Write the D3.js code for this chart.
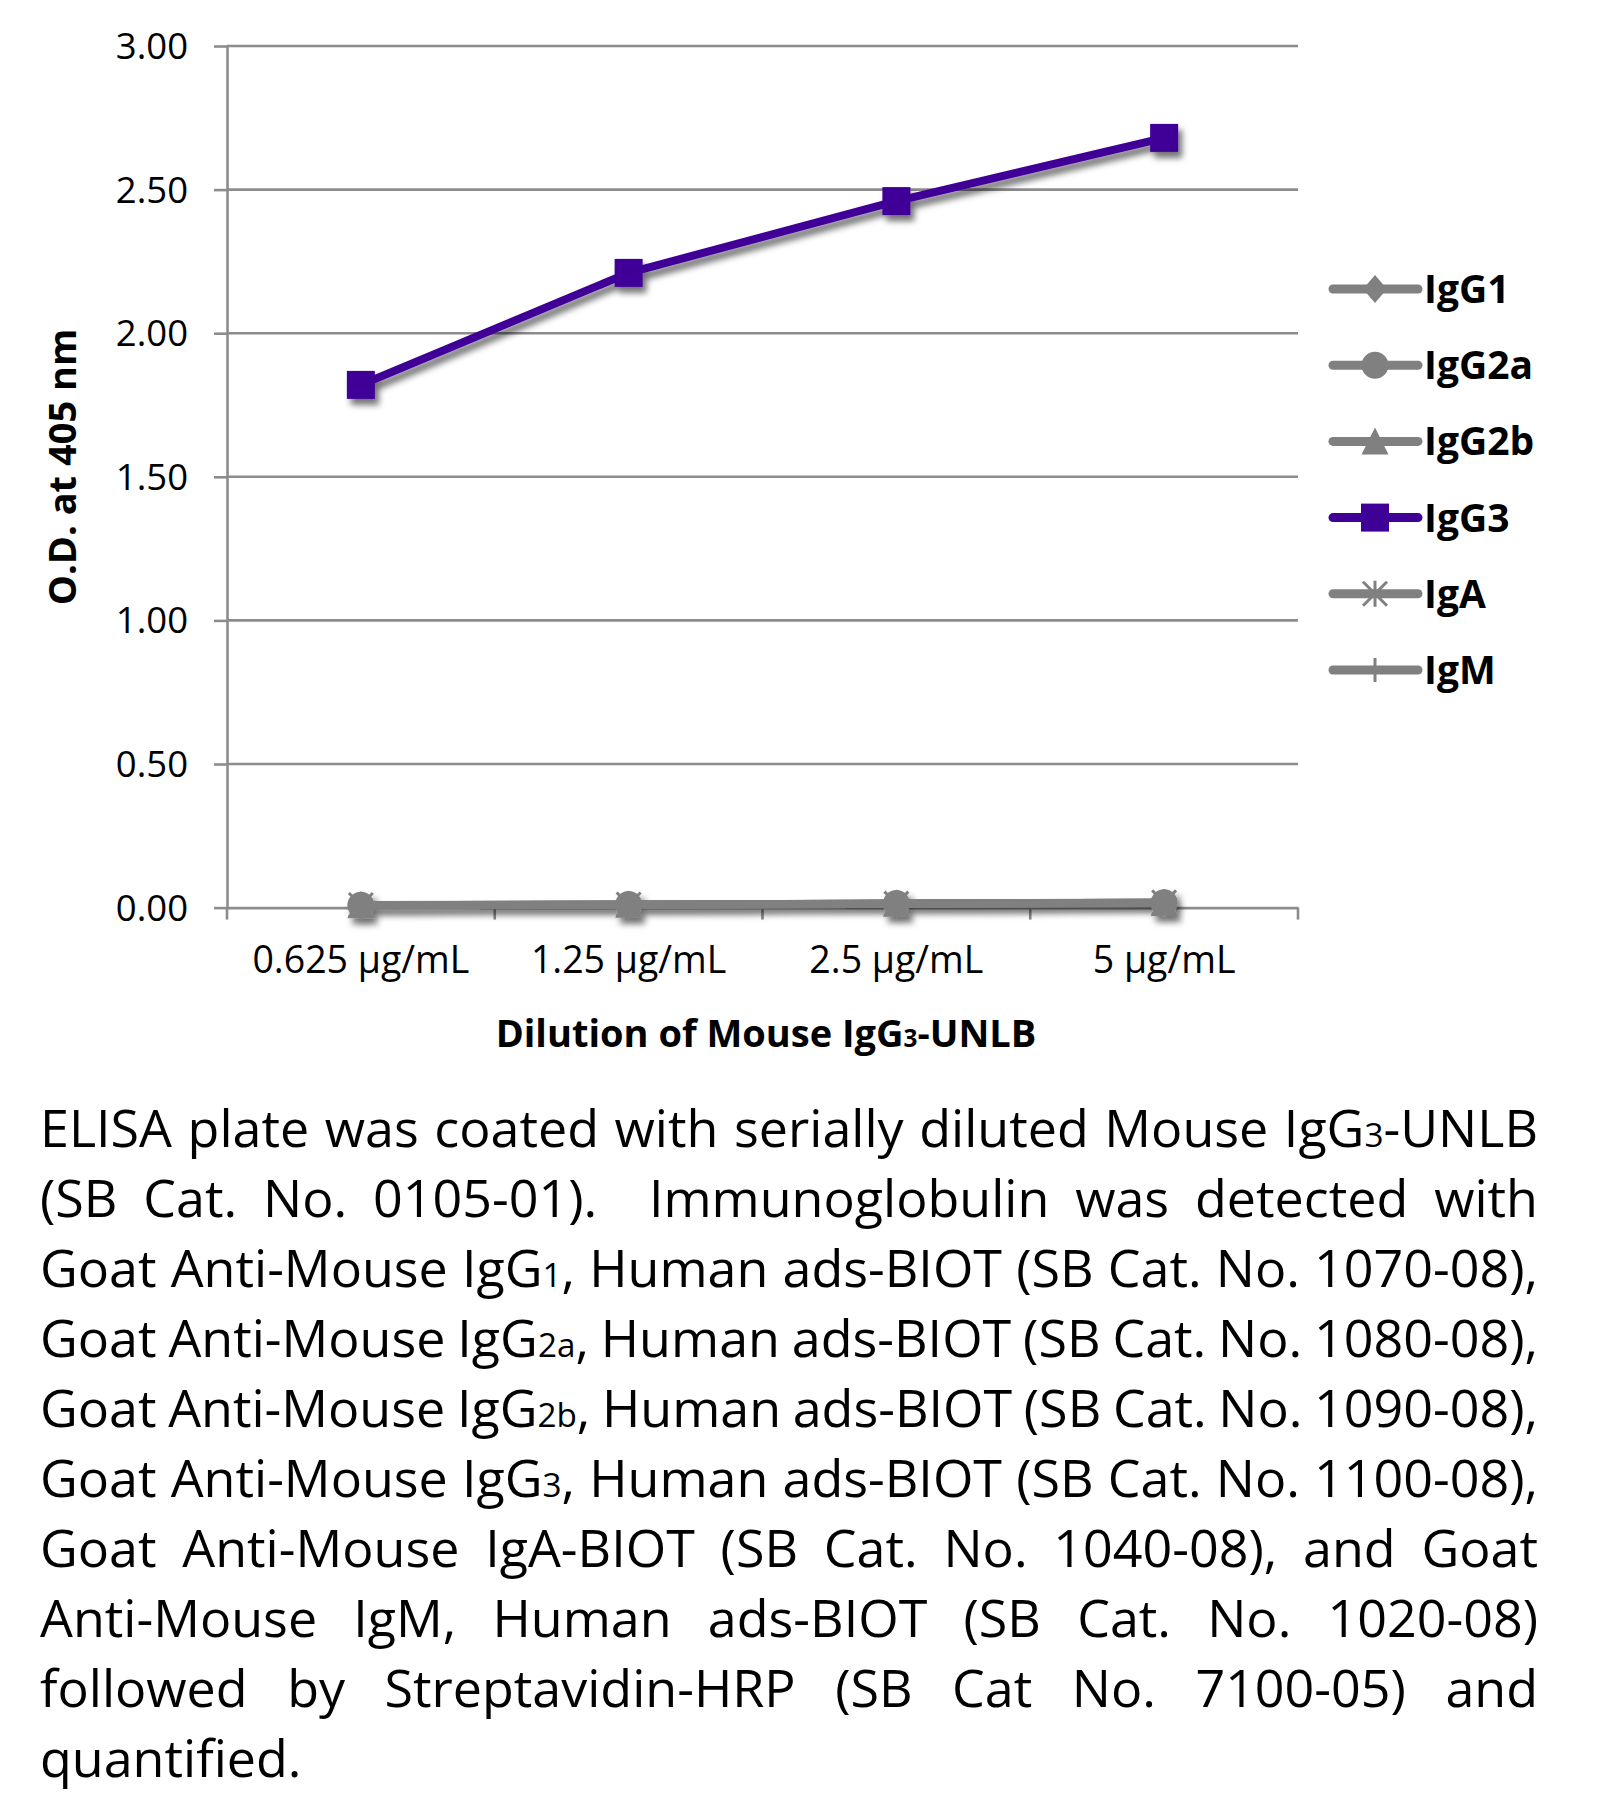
<!DOCTYPE html>
<html>
<head>
<meta charset="utf-8">
<script src="https://cdn.jsdelivr.net/npm/d3@7"></script>
<style>
  html, body { margin: 0; padding: 0; background: #ffffff; }
  svg { display: block; }
  text { font-family: "Open Sans", "Noto Sans", sans-serif; fill: #000; }
</style>
</head>
<body>
<svg id="chart" width="1608" height="1793"></svg>
<script>
// ---------------- DATA ----------------
const categories = ["0.625 µg/mL", "1.25 µg/mL", "2.5 µg/mL", "5 µg/mL"];
const yTicks = [0, 0.5, 1.0, 1.5, 2.0, 2.5, 3.0];
const seriesNames = ["IgG1", "IgG2a", "IgG2b", "IgG3", "IgA", "IgM"];
const igG1 = [0.008, 0.011, 0.014, 0.017];
const igG2a = [0.008, 0.011, 0.014, 0.017];
const igG2b = [0.008, 0.010, 0.013, 0.016];
const igG3 = [1.82, 2.21, 2.46, 2.68];
const igA = [0.009, 0.011, 0.014, 0.018];
const igM = [0.008, 0.010, 0.014, 0.017];
const seriesValues = [igG1, igG2a, igG2b, igG3, igA, igM];
const seriesMarkers = ["diamond", "circle", "triangle", "square", "asterisk", "plus"];
const seriesColors = ["#808080", "#808080", "#808080", "#3f0098", "#808080", "#808080"];
const yTitle = "O.D. at 405 nm";
const xTitle = "Dilution of Mouse IgG{3}-UNLB";
const captionLines = [
  "ELISA plate was coated with serially diluted Mouse IgG{3}-UNLB",
  "(SB Cat. No. 0105-01).  Immunoglobulin was detected with",
  "Goat Anti-Mouse IgG{1}, Human ads-BIOT (SB Cat. No. 1070-08),",
  "Goat Anti-Mouse IgG{2a}, Human ads-BIOT (SB Cat. No. 1080-08),",
  "Goat Anti-Mouse IgG{2b}, Human ads-BIOT (SB Cat. No. 1090-08),",
  "Goat Anti-Mouse IgG{3}, Human ads-BIOT (SB Cat. No. 1100-08),",
  "Goat Anti-Mouse IgA-BIOT (SB Cat. No. 1040-08), and Goat",
  "Anti-Mouse IgM, Human ads-BIOT (SB Cat. No. 1020-08)",
  "followed by Streptavidin-HRP (SB Cat No. 7100-05) and",
  "quantified."
];

// ---------------- LAYOUT ----------------
const plotL = 227, plotR = 1298, plotT = 46, plotB = 907.6;
const svg = d3.select("#chart");

const defs = svg.append("defs");
const f = defs.append("filter").attr("id", "shadow")
  .attr("x", "-20%").attr("y", "-20%").attr("width", "140%").attr("height", "160%");
f.append("feDropShadow").attr("dx", 4).attr("dy", 6).attr("stdDeviation", 3.2)
  .attr("flood-color", "#000").attr("flood-opacity", 0.55);

const x = d3.scaleBand().domain(categories).range([plotL, plotR]).padding(0);
const y = d3.scaleLinear().domain([0, 3]).range([plotB, plotT]);
const gridColor = "#8c8c8c";

// gridlines
svg.append("g").selectAll("line").data(yTicks.filter(d => d > 0)).join("line")
  .attr("x1", plotL).attr("x2", plotR)
  .attr("y1", d => y(d)).attr("y2", d => y(d))
  .attr("stroke", gridColor).attr("stroke-width", 2.6);

// y axis
const yAxis = svg.append("g").attr("transform", `translate(${plotL},0)`)
  .call(d3.axisLeft(y).tickValues(yTicks).tickFormat(d3.format(".2f")).tickSizeInner(13).tickSizeOuter(0).tickPadding(26));
yAxis.select(".domain").attr("stroke", gridColor).attr("stroke-width", 2.6);
yAxis.selectAll(".tick line").attr("stroke", gridColor).attr("stroke-width", 2.6);
yAxis.selectAll(".tick text").style("font-family", '"Open Sans", sans-serif')
  .style("font-size", "36.5px").attr("fill", "#000").attr("dy", "0.34em");

// x axis
const xAxis = svg.append("g").attr("transform", `translate(0,${plotB})`)
  .call(d3.axisBottom(x).tickSize(0).tickPadding(65));
xAxis.select(".domain").attr("stroke", gridColor).attr("stroke-width", 2.6);
xAxis.selectAll(".tick text").style("font-family", '"Open Sans", sans-serif')
  .style("font-size", "37.5px").attr("fill", "#000").attr("dy", "0");
const boundaries = categories.map(c => x(c)).concat([x.range()[1]]);
svg.append("g").selectAll("line").data(boundaries).join("line")
  .attr("x1", d => d).attr("x2", d => d).attr("y1", plotB).attr("y2", plotB + 12)
  .attr("stroke", gridColor).attr("stroke-width", 2.6);

// ---------------- MARKERS ----------------
function markerPath(type) {
  switch (type) {
    case "diamond": return "M0,-14L12,0L0,14L-12,0Z";
    case "circle": return d3.symbol(d3.symbolCircle, 572)();
    case "triangle": return "M0,-14L13.5,13L-13.5,13Z";
    case "square": return "M-14,-14H14V14H-14Z";
    case "asterisk": return "M-12,-12L12,12M-12,12L12,-12M0,-13V13";
    case "plus": return "M0,-12V12M-12,0H12";
  }
}
function drawMarker(g, type, color) {
  const stroked = (type === "asterisk" || type === "plus");
  g.append("path").attr("d", markerPath(type))
    .attr("fill", stroked ? "none" : color)
    .attr("stroke", stroked ? color : "none")
    .attr("stroke-width", stroked ? 3 : 0);
}

// series
const seriesG = svg.append("g").attr("filter", "url(#shadow)");
const cx = c => x(c) + x.bandwidth() / 2;
const line = d3.line().x((d, i) => cx(categories[i])).y(d => y(d));
const order = [0, 1, 2, 4, 5, 3];
order.forEach(si => {
  const g = seriesG.append("g");
  g.append("path").attr("d", line(seriesValues[si]))
    .attr("fill", "none").attr("stroke", seriesColors[si])
    .attr("stroke-width", 8).attr("stroke-linejoin", "round").attr("stroke-linecap", "round");
  seriesValues[si].forEach((v, i) => {
    const mg = g.append("g").attr("transform", `translate(${cx(categories[i])},${y(v)})`);
    drawMarker(mg, seriesMarkers[si], seriesColors[si]);
  });
});

// ---------------- LEGEND ----------------
const legY = d3.scalePoint().domain(seriesNames).range([289, 670]);
const legend = svg.append("g");
seriesNames.forEach((name, si) => {
  const g = legend.append("g").attr("transform", `translate(0,${legY(name)})`);
  g.append("line").attr("x1", 1333).attr("x2", 1418).attr("y1", 0).attr("y2", 0)
    .attr("stroke", seriesColors[si]).attr("stroke-width", 9).attr("stroke-linecap", "round");
  const mg = g.append("g").attr("transform", "translate(1375,0)");
  drawMarker(mg, seriesMarkers[si], seriesColors[si]);
  g.append("text").attr("x", 1424).attr("y", 14)
    .style("font-size", "39px").style("font-weight", "700").text(name);
});

// ---------------- TITLES ----------------
function appendRich(textSel, str) {
  const parts = str.split(/(\{[^}]*\})/).filter(s => s.length);
  parts.forEach(p => {
    if (p.startsWith("{")) {
      textSel.append("tspan").style("font-size", "0.64em").text(p.slice(1, -1));
    } else {
      textSel.append("tspan").text(p);
    }
  });
  return textSel;
}
svg.append("text").attr("transform", "translate(76,467) rotate(-90)")
  .attr("text-anchor", "middle").style("font-size", "38px").style("font-weight", "700").text(yTitle);
appendRich(svg.append("text").attr("x", 766).attr("y", 1047).attr("text-anchor", "middle")
  .style("font-size", "38px").style("font-weight", "700"), xTitle);

// ---------------- CAPTION (justified) ----------------
const capL = 40, capR = 1538, capW = capR - capL, capY0 = 1147, capDY = 70;
const capG = svg.append("g");
const probeFS = 40;
const probe = appendRich(capG.append("text").style("font-size", probeFS + "px"), captionLines[0].replace(/ /g, "\u00a0"));
const probeW = probe.node().getComputedTextLength();
probe.remove();
const capFS = Math.min(52, probeFS * capW / probeW);
capG.style("font-size", capFS + "px");
captionLines.forEach((ln, li) => {
  // words and gap weights (a double space counts as two gaps)
  const tokens = ln.split(/( +)/);
  const words = [], gapW = [];
  tokens.forEach((tk, k) => {
    if (k % 2 === 0) words.push(tk); else gapW.push(tk.length);
  });
  const texts = words.map(w => appendRich(capG.append("text").attr("y", capY0 + li * capDY), w));
  const widths = texts.map(t => t.node().getComputedTextLength());
  const sum = d3.sum(widths);
  const totalGapW = Math.max(1, d3.sum(gapW));
  const last = li === captionLines.length - 1;
  const minGap = capFS * 0.2;
  let unit = last ? capFS * 0.26 : (capW - sum) / totalGapW;
  let scale = 1;
  if (!last && unit < minGap) {
    unit = minGap;
    scale = (capW - unit * totalGapW) / sum;
  }
  let xPos = capL;
  texts.forEach((t, i) => {
    t.attr("x", xPos);
    const w = widths[i] * scale;
    if (scale !== 1) t.attr("textLength", w).attr("lengthAdjust", "spacingAndGlyphs");
    xPos += w + (i < gapW.length ? unit * gapW[i] : 0);
  });
});
</script>
</body>
</html>
